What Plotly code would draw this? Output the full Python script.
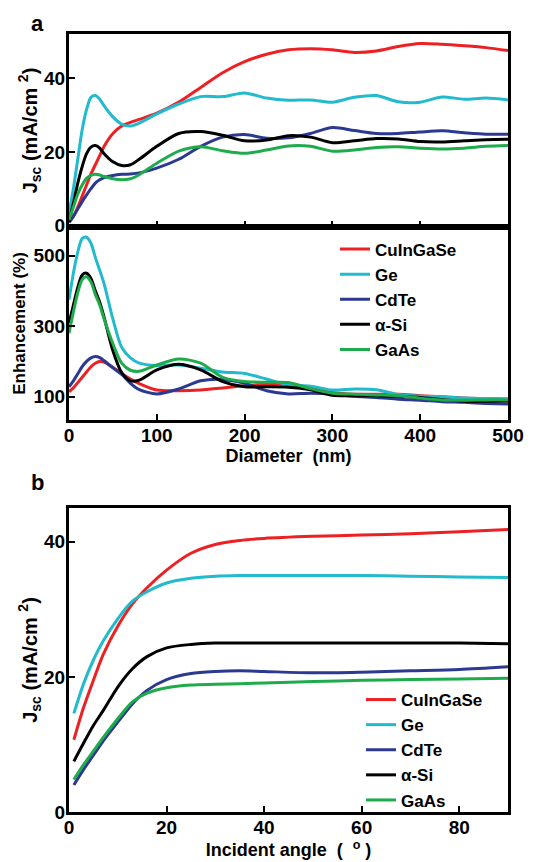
import plotly.graph_objects as go

# ---------------- data ----------------
names = ["CuInGaSe", "Ge", "CdTe", "α-Si", "GaAs"]
colors = ["#ED2024", "#22BACD", "#2B3990", "#000000", "#1EAB4B"]

diameter = [0, 5, 10, 15, 20, 25, 30, 35, 40, 50, 60, 70, 80, 100, 125, 150, 175,
            200, 225, 250, 275, 300, 325, 350, 375, 400, 425, 450, 475, 500]

jsc_cuingase = [1, 2.5, 5, 8, 11, 14, 16.5, 19, 21.5, 25, 27, 28, 28.8, 30.5, 33.5, 37.5, 41.5,
                44.5, 46.5, 47.7, 48, 47.7, 47, 47.4, 48.6, 49.4, 49.2, 48.8, 48.3, 47.5]
jsc_ge = [3.4, 10, 18, 26, 31.5, 34.8, 35.3, 34.3, 32.5, 29.5, 27.5, 27, 27.8, 30.3, 33, 35, 35,
          36.0, 34.6, 34.0, 34.1, 33.5, 34.8, 35.3, 33.6, 33.5, 34.9, 34.3, 34.6, 34.1]
jsc_cdte = [0.8, 2.5, 4.5, 6.5, 8.3, 10, 11.5, 12.4, 13, 13.6, 13.9, 14, 14.3, 15.6, 18, 21.5, 24,
            24.7, 23.7, 23.8, 25, 26.6, 25.8, 25, 25, 25.4, 25.7, 25.2, 24.8, 24.8]
jsc_asi = [1, 6, 11.5, 16, 19.5, 21.3, 21.7, 21, 19.5, 17.3, 16.3, 16.5, 18, 21.5, 25, 25.5, 24.5,
           23, 23.2, 24.4, 24, 22.5, 23, 23.6, 23.5, 22.8, 22.7, 23, 23.3, 23.4]
jsc_gaas = [1.5, 5, 8.5, 11, 12.8, 13.6, 13.9, 13.7, 13.3, 12.7, 12.4, 12.7, 13.8, 16.9, 20.2, 21.4, 20.3,
            19.6, 20.5, 21.6, 21.5, 20.2, 20.5, 21.2, 21.4, 21, 20.8, 21, 21.5, 21.7]

enh_cuingase = [114, 125, 140, 155, 170, 185, 195, 200, 198, 183, 166, 150, 137, 119, 117, 119, 125,
                131, 135, 136, 125, 112, 107, 107, 107, 103, 100, 96, 94, 93]
enh_ge = [375, 450, 510, 548, 552, 535, 495, 458, 420, 320, 240, 210, 195, 188, 190, 181, 170,
          166, 150, 134, 130, 119, 122, 120, 106, 101, 100, 96, 95, 94]
enh_cdte = [128, 145, 165, 185, 200, 210, 214, 211, 202, 182, 163, 138, 120, 108, 122, 145, 149,
            138, 117, 108, 110, 108, 101, 98, 93, 90, 86, 84, 81, 79]
enh_asi = [308, 360, 410, 445, 450, 435, 400, 368, 325, 230, 168, 145, 147, 176, 192, 176, 143,
           128, 128, 127, 120, 104, 103, 103, 101, 98, 92, 87, 87, 88]
enh_gaas = [280, 340, 395, 432, 440, 425, 390, 360, 320, 250, 195, 175, 172, 190, 207, 195, 155,
            143, 141, 140, 123, 110, 107, 105, 103, 96, 91, 90, 91, 91]

angle = [1, 3, 5, 7, 10, 13, 16, 20, 25, 30, 35, 40, 50, 60, 70, 80, 90]
ang_cuingase = [10.7, 15.5, 19.5, 23.3, 27.5, 30.8, 33.2, 35.8, 38.3, 39.6, 40.2, 40.5, 40.8, 41, 41.2, 41.5, 41.8]
ang_ge = [14.6, 19, 22.5, 25.3, 28.6, 31.2, 32.6, 33.9, 34.6, 34.9, 35, 35, 35, 35, 34.9, 34.8, 34.7]
ang_cdte = [4, 6.3, 8.4, 10.5, 13.3, 16, 18, 19.6, 20.5, 20.8, 20.9, 20.8, 20.6, 20.7, 20.9, 21.1, 21.5]
ang_asi = [7.5, 10.2, 12.8, 15, 18.5, 21.2, 23, 24.3, 24.8, 25, 25, 25, 25, 25, 25, 25, 24.9]
ang_gaas = [4.8, 7, 9, 11, 13.8, 16.3, 17.6, 18.4, 18.8, 18.9, 19, 19.1, 19.3, 19.5, 19.6, 19.7, 19.8]

jsc_sets = [jsc_cuingase, jsc_ge, jsc_cdte, jsc_asi, jsc_gaas]
enh_sets = [enh_cuingase, enh_ge, enh_cdte, enh_asi, enh_gaas]
ang_sets = [ang_cuingase, ang_ge, ang_cdte, ang_asi, ang_gaas]

# ---------------- figure ----------------
fig = go.Figure()
LW = 3
for n, c, ys in zip(names, colors, jsc_sets):
    fig.add_trace(go.Scatter(x=diameter, y=ys, mode="lines", name=n, showlegend=False,
                             line=dict(color=c, width=LW, shape="spline", smoothing=0.8),
                             xaxis="x", yaxis="y"))
for n, c, ys in zip(names, colors, enh_sets):
    fig.add_trace(go.Scatter(x=diameter, y=ys, mode="lines", name=n, legend="legend",
                             line=dict(color=c, width=LW, shape="spline", smoothing=0.8),
                             xaxis="x2", yaxis="y2"))
for n, c, ys in zip(names, colors, ang_sets):
    fig.add_trace(go.Scatter(x=angle, y=ys, mode="lines", name=n, legend="legend2",
                             line=dict(color=c, width=LW, shape="spline", smoothing=0.8),
                             xaxis="x3", yaxis="y3"))

axis_common = dict(showline=True, linewidth=3, linecolor="black", mirror=True,
                   ticks="inside", ticklen=6, tickwidth=2, tickcolor="black",
                   showgrid=False, zeroline=False, automargin=False,
                   tickfont=dict(size=19))

# page body has an 8px offset; figure is 540x854 and placed at (8, 8)
OFF = 8
W, HT = 540, 854
L, T, R, B = 69 - OFF, 34 - OFF, W - (508 - OFF), HT - (812 - OFF)
H = 812.0 - 34.0


def ydom(top_px, bot_px):
    return [(812 - bot_px) / H, (812 - top_px) / H]


def px_x(px):
    return (px - 69) / (508 - 69)


jsc_title = "J<sub>sc</sub> (mA/cm <sup>2</sup>)"

fig.update_layout(
    width=W, height=HT,
    margin=dict(l=L, r=R, t=T, b=B, autoexpand=False),
    paper_bgcolor="white", plot_bgcolor="white",
    font=dict(family="Liberation Sans, Arial, sans-serif", size=18, color="black", weight="bold"),
    xaxis=dict(domain=[0, 1], anchor="y", range=[0, 500], tickvals=[100, 200, 300, 400, 500],
               showticklabels=False, **axis_common),
    yaxis=dict(domain=ydom(34, 227), anchor="x", range=[-0.4, 52], tickvals=[0, 20, 40],
               ticklabelstandoff=-3,
               title=dict(text=jsc_title, font=dict(size=20), standoff=2), **axis_common),
    xaxis2=dict(domain=[0, 1], anchor="y2", range=[0, 500], tickvals=[0, 100, 200, 300, 400, 500],
                ticklabelstandoff=-4,
                title=dict(text="Diameter  (nm)", font=dict(size=18), standoff=2), **axis_common),
    yaxis2=dict(domain=ydom(227, 420), anchor="x2", range=[34, 581], tickvals=[100, 300, 500],
                ticklabelstandoff=-3,
                title=dict(text="Enhancement (%)", font=dict(size=17), standoff=4), **axis_common),
    xaxis3=dict(domain=[0, 1], anchor="y3", range=[0, 90], tickvals=[0, 20, 40, 60, 80],
                ticklabelstandoff=-4,
                title=dict(text="Incident angle  (  <sup>o</sup> )", font=dict(size=18), standoff=2),
                **axis_common),
    yaxis3=dict(domain=ydom(508, 812), anchor="x3", range=[0, 45], tickvals=[0, 20, 40],
                ticklabelstandoff=-3,
                title=dict(text=jsc_title, font=dict(size=20), standoff=2), **axis_common),
    legend=dict(x=px_x(335), y=(812 - 231.5) / H, xanchor="left", yanchor="top",
                bgcolor="rgba(0,0,0,0)", font=dict(size=17), tracegroupgap=0),
    legend2=dict(x=px_x(361), y=(812 - 682) / H, xanchor="left", yanchor="top",
                 bgcolor="rgba(0,0,0,0)", font=dict(size=17), tracegroupgap=0),
    annotations=[
        dict(text="a", x=px_x(37), y=(812 - 24) / H, xref="paper", yref="paper",
             showarrow=False, font=dict(size=22), xanchor="center", yanchor="middle"),
        dict(text="b", x=px_x(37), y=(812 - 482) / H, xref="paper", yref="paper",
             showarrow=False, font=dict(size=22), xanchor="center", yanchor="middle"),
    ],
)

fig.write_html("out.html")
